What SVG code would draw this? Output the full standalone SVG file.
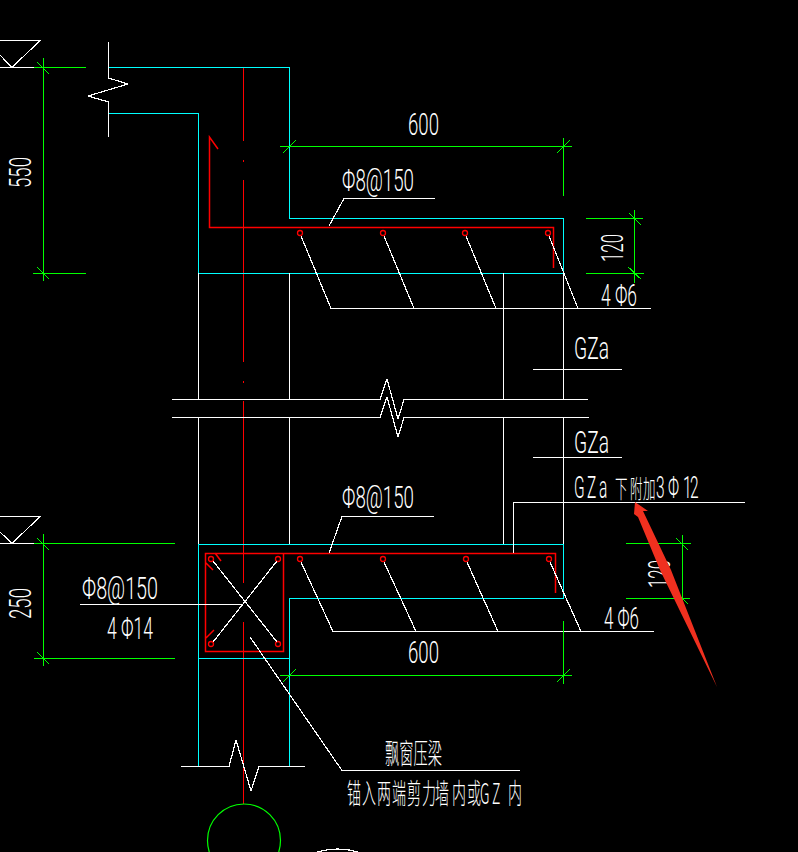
<svg xmlns="http://www.w3.org/2000/svg" width="798" height="852" viewBox="0 0 798 852">
<style>
.w,.c,.r,.g{fill:none;stroke-width:1.2;shape-rendering:crispEdges}
.w{stroke:#fff}.c{stroke:#0ff}.r{stroke:#f00}.g{stroke:#0f0}
.b{fill:none;stroke:#f00;stroke-width:1.5}
.ci{fill:none;stroke:#f00;stroke-width:1.3}
text{fill:#fff;font-family:Roboto,"Liberation Sans","Noto Sans CJK SC",sans-serif;font-weight:300;font-size:31px}
.s{font-family:"Noto Sans CJK SC","Noto Sans",sans-serif;font-size:28px}
.k{font-family:"Noto Sans CJK SC","Noto Sans",sans-serif;font-size:25px}
</style>
<rect width="798" height="852" fill="#000"/>
<g id="centerline">
<path class="r" d="M243.500 67V141M243.500 160V162M243.500 180V362M243.500 381V383M243.500 401V583M243.500 622V804"/>
</g>
<g id="cyan-outline">
<path class="c" d="M108 67.500H289.500V218.500H563.500V273.500H198.500V113.500H108"/>
<path class="c" d="M198.500 766V544.500H563.500V598.500H289.500V766M198.500 658.500H289.500"/>
</g>
<g id="walls">
<path class="w" d="M198.500 273V399M289.500 273V399M503.500 273V399M563.500 273V399M198.500 417V544M289.500 417V544M503.500 417V544M563.500 417V544"/>
<path class="w" d="M172 399.500H380L387 379L398 419L404 399.500H588M172 417.500H380L387 397L398 437L404 417.500H589"/>
<path class="w" d="M108.500 42V78L128 84L88 96L108.500 102V137"/>
<path class="w" d="M181 766.500H229L236 740L251 791L259 766.500H305"/>
<path class="w" d="M0 40.500H40L12 67.500L0 55M0 67.500H34M0 516.500H40L12 543.500L0 532M0 543.500H34"/>
<path class="w" d="M317 852Q338 846 358 852"/>
</g>
<g id="rebar">
<path class="b" d="M218 149L209.500 137V227.500H553.500V268"/>
<path class="b" d="M205.500 553.500H283.500V651.500H205.500ZM283.500 553.500H555.500V593M215 553L221 561M206 563L213 570M206 638L214 630"/>
<circle class="ci" cx="300" cy="233" r="2.500"/><circle class="ci" cx="383" cy="233" r="2.500"/><circle class="ci" cx="465" cy="233" r="2.500"/><circle class="ci" cx="548" cy="233" r="2.500"/>
<circle class="ci" cx="300" cy="559" r="2.500"/><circle class="ci" cx="383" cy="559" r="2.500"/><circle class="ci" cx="466" cy="559" r="2.500"/><circle class="ci" cx="549" cy="559" r="2.500"/>
<circle class="ci" cx="211" cy="559" r="2.500"/><circle class="ci" cx="278" cy="559" r="2.500"/><circle class="ci" cx="211" cy="644" r="2.500"/><circle class="ci" cx="278" cy="644" r="2.500"/>
</g>
<g id="leaders">
<path class="w" d="M301 236L331 308.500M384 236L414 308.500M466 236L496 308.500M549 236L578 308.500M331 308.500H651"/>
<path class="w" d="M301 562L333 631.500M384 562L416 631.500M467 562L498 631.500M550 562L581 631.500M333 631.500H654"/>
<path class="w" d="M329 226L344 198.500H435M329 553L342 516.500H434"/>
<path class="w" d="M533 369.500H622M533 457.500H622M513.500 553V502.500H745"/>
<path class="w" d="M213 561L277 642M277 561L213 642M80 604.500H243"/>
<path class="w" d="M250 637L342 770.500H520"/>
</g>
<g id="dimensions">
<path class="g" d="M43.500 58V281M34 67.500H86M33 273.500H86M37 62L49 74M37 267L49 279"/>
<path class="g" d="M43.500 534V666M34 543.500H175M34 658.500H175M37 538L49 550M37 652L49 664"/>
<path class="g" d="M280 146.500H572M563.500 138V196M283 153L296 140M557 153L570 140"/>
<path class="g" d="M634.500 210V283M586 218.500H643M586 273.500H644M629 213L641 225M628 267L641 279"/>
<path class="g" d="M280 675.500H572M563.500 621V684M283 682L296 669M557 682L570 669"/>
<path class="g" d="M682.500 535V605M626 543.500H691M626 598.500H690M676 538L688 550M676 592L688 604"/>
<circle class="g" cx="244" cy="840.500" r="36.500" style="shape-rendering:auto"/>
</g>
<g id="labels">
<text transform="translate(31,188) rotate(-90)" textLength="31" lengthAdjust="spacingAndGlyphs">550</text>
<text transform="translate(31,619) rotate(-90)" textLength="31" lengthAdjust="spacingAndGlyphs">250</text>
<text transform="translate(623,262) rotate(-90)" textLength="28" lengthAdjust="spacingAndGlyphs">120</text>
<text transform="translate(670,588) rotate(-90)" textLength="28" lengthAdjust="spacingAndGlyphs">120</text>
<text x="408" y="135" textLength="31" lengthAdjust="spacingAndGlyphs">600</text>
<text x="408" y="663" textLength="31" lengthAdjust="spacingAndGlyphs">600</text>
<text x="342" y="191" textLength="72" lengthAdjust="spacingAndGlyphs">Φ8@150</text>
<text x="342" y="508" textLength="72" lengthAdjust="spacingAndGlyphs">Φ8@150</text>
<text x="82" y="599" textLength="76" lengthAdjust="spacingAndGlyphs">Φ8@150</text>
<text x="107" y="639" textLength="46" lengthAdjust="spacingAndGlyphs">4 Φ14</text>
<text x="601" y="306" textLength="36" lengthAdjust="spacingAndGlyphs">4 Φ6</text>
<text x="604" y="629" textLength="35" lengthAdjust="spacingAndGlyphs">4 Φ6</text>
<text x="574" y="359" textLength="35" lengthAdjust="spacingAndGlyphs">GZa</text>
<text x="574" y="453" textLength="35" lengthAdjust="spacingAndGlyphs">GZa</text>
<text transform="translate(574,498) scale(.5,1)" x="0 26 50 76 82 112 138 164 188 218 232">GZa <tspan class="k">下附加</tspan>3Φ12</text>
<text class="s" x="385" y="764" textLength="57" lengthAdjust="spacingAndGlyphs">飘窗压梁</text>
<text class="s" transform="translate(347,804) scale(.5,1)" x="0 30 60 90 120 150 176 210 240 266 290 322">锚入两端剪力墙内或GZ内</text>
</g>
<g id="red-arrow">
<polygon points="635,502 648,511 643,511 671,570 717,687 660,570 638,517 634,514" fill="#f0301f"/>
</g>
</svg>
